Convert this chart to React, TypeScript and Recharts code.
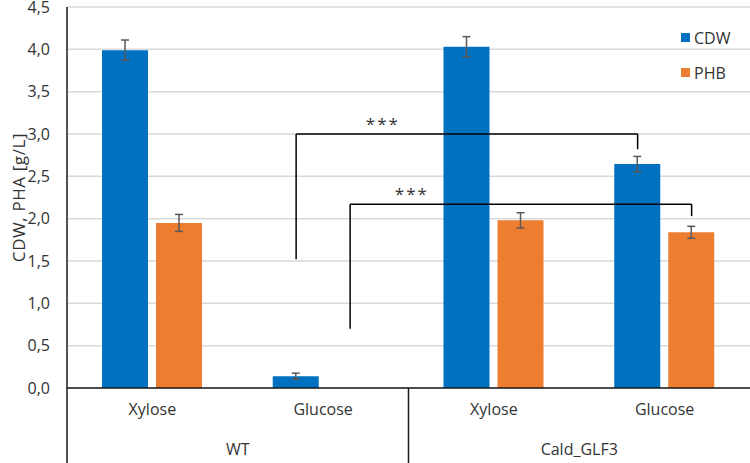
import React from "react";
import {
  ComposedChart,
  Bar,
  XAxis,
  YAxis,
  CartesianGrid,
  ErrorBar,
  Legend,
  ReferenceLine,
  ReferenceDot,
} from "recharts";

const sugars = ["Xylose", "Glucose", "Xylose", "Glucose"];
const strains = ["WT", "WT", "Cald_GLF3", "Cald_GLF3"];
const cdw = [3.99, 0.14, 4.03, 2.645];
const cdwErr = [0.12, 0.035, 0.12, 0.09];
const phb = [1.95, null, 1.98, 1.84];
const phbErr = [0.1, null, 0.09, 0.07];
const yTicks = [0, 0.5, 1, 1.5, 2, 2.5, 3, 3.5, 4, 4.5];

// significance brackets between bars of one series; legs end at these values,
// label offset is a fraction of a category band from the left bracket's category
const brackets = [
  { from: 1, to: 3, series: "CDW", top: 3.0, leftEnd: 1.52, rightEnd: 2.82, label: "***", labelShift: 0.35 },
  { from: 1, to: 3, series: "PHB", top: 2.17, leftEnd: 0.7, rightEnd: 2.03, label: "***", labelShift: 0.52 },
];

const W = 750;
const H = 463;
const Y_W = 67;
const TOP = 7;
const CAT_H = 40;
const GRP_H = 35;
const BAR_W = 46;
const BAR_GAP = 8;
const BAND = (W - Y_W) / sugars.length;
const SHIFT = (BAR_W + BAR_GAP) / 2;

const BLUE = "#0070C0";
const ORANGE = "#ED7D31";
const TEXT = "#333333";
const AXIS = "#1a1a1a";
const FONT = "'Open Sans', sans-serif";

const data = sugars.map((s, i) => ({
  slot: `${strains[i]} ${s}`,
  sugar: s,
  strain: strains[i],
  cdw: cdw[i],
  cdwErr: cdwErr[i],
  phb: phb[i],
  phbErr: phbErr[i],
}));

function SugarTick(props: any) {
  const { x, y, payload, index, width, visibleTicksCount } = props;
  const band = (width || W - Y_W) / (visibleTicksCount || sugars.length);
  const startsGroup = index === 0 || strains[index] !== strains[index - 1];
  return (
    <g>
      {startsGroup && (
        <line x1={x - band / 2} x2={x - band / 2} y1={y} y2={y + CAT_H + GRP_H} stroke={AXIS} strokeWidth={1.5} />
      )}
      <text x={x} y={y + 27} textAnchor="middle" fill={TEXT} fontSize={16}>
        {payload.value}
      </text>
    </g>
  );
}

function StrainTick(props: any) {
  const { x, y, payload } = props;
  return (
    <text x={x} y={y + 27} textAnchor="middle" fill={TEXT} fontSize={16}>
      {payload.value}
    </text>
  );
}

function YTitle(props: any) {
  const vb = props.viewBox || { x: 0, y: TOP, width: Y_W, height: 381 };
  const cx = vb.x + 18;
  const cy = vb.y + vb.height / 2;
  return (
    <text x={cx} y={cy} transform={`rotate(-90 ${cx} ${cy})`} textAnchor="middle" dominantBaseline="central" fill={TEXT} fontSize={17} letterSpacing={0.6}>
      CDW, PHA [g/L]
    </text>
  );
}

function LegendBox({ payload }: any) {
  return (
    <div style={{ fontFamily: FONT, fontSize: 16, color: TEXT }}>
      {(payload || []).map((p: any) => (
        <div key={p.value} style={{ display: "flex", alignItems: "center", height: 35 }}>
          <span style={{ width: 9, height: 9, background: p.color, marginRight: 4, display: "inline-block" }} />
          <span>{p.value}</span>
        </div>
      ))}
    </div>
  );
}

const shifted = (dx1: number, dx2: number) => (p: any) => (
  <line x1={p.x1 + dx1} y1={p.y1} x2={p.x2 + dx2} y2={p.y2} stroke="#000" strokeWidth={1.5} />
);

export default function App() {
  return (
    <div style={{ position: "absolute", left: 0, top: 0, width: W, height: H, fontFamily: FONT, background: "#fff" }}>
      <ComposedChart width={W} height={H} data={data} margin={{ top: TOP, right: 0, bottom: 0, left: 0 }} barGap={BAR_GAP}>
        <CartesianGrid vertical={false} stroke="#d9d9d9" strokeWidth={1.5} xAxisId="cat" />
        <XAxis
          xAxisId="cat"
          dataKey="sugar"
          height={CAT_H}
          tickLine={false}
          tickSize={0}
          tickMargin={0}
          axisLine={{ stroke: AXIS, strokeWidth: 1.5 }}
          tick={<SugarTick />}
          interval={0}
        />
        <XAxis
          xAxisId="grp"
          dataKey="strain"
          allowDuplicatedCategory={false}
          height={GRP_H}
          tickLine={false}
          tickSize={0}
          tickMargin={0}
          axisLine={false}
          tick={<StrainTick />}
          interval={0}
        />
        <XAxis xAxisId="slot" dataKey="slot" hide />
        <YAxis
          width={Y_W}
          domain={[0, 4.5]}
          ticks={yTicks}
          interval={0}
          tickLine={false}
          tickSize={0}
          tickMargin={17}
          axisLine={{ stroke: AXIS, strokeWidth: 1.5 }}
          tick={{ fill: TEXT, fontSize: 16 }}
          tickFormatter={(v: number) => v.toFixed(1).replace(".", ",")}
          label={<YTitle />}
        />
        <Legend
          layout="vertical"
          align="center"
          verticalAlign="middle"
          wrapperStyle={{ left: 681, top: 20, width: "auto" }}
          content={<LegendBox />}
        />
        <Bar xAxisId="cat" dataKey="cdw" name="CDW" fill={BLUE} barSize={BAR_W} isAnimationActive={false}>
          <ErrorBar dataKey="cdwErr" width={4} stroke="#595959" strokeWidth={1.5} />
        </Bar>
        <Bar xAxisId="cat" dataKey="phb" name="PHB" fill={ORANGE} barSize={BAR_W} isAnimationActive={false}>
          <ErrorBar dataKey="phbErr" width={4} stroke="#595959" strokeWidth={1.5} />
        </Bar>
        {brackets.map((b, i) => {
          const a = data[b.from].slot;
          const z = data[b.to].slot;
          const dx = b.series === "CDW" ? -SHIFT : SHIFT;
          return (
            <React.Fragment key={i}>
              <ReferenceLine xAxisId="slot" ifOverflow="visible" segment={[{ x: a, y: b.leftEnd }, { x: a, y: b.top }]} shape={shifted(dx, dx)} />
              <ReferenceLine xAxisId="slot" ifOverflow="visible" segment={[{ x: a, y: b.top }, { x: z, y: b.top }]} shape={shifted(dx, dx)} />
              <ReferenceLine xAxisId="slot" ifOverflow="visible" segment={[{ x: z, y: b.top }, { x: z, y: b.rightEnd }]} shape={shifted(dx, dx)} />
              <ReferenceDot
                xAxisId="slot"
                ifOverflow="visible"
                x={a}
                y={b.top}
                r={0}
                shape={(p: any) => (
                  <text x={p.cx + b.labelShift * BAND} y={p.cy - 4} textAnchor="middle" fill={TEXT} fontSize={17} letterSpacing={2}>
                    {b.label}
                  </text>
                )}
              />
            </React.Fragment>
          );
        })}
      </ComposedChart>
    </div>
  );
}
